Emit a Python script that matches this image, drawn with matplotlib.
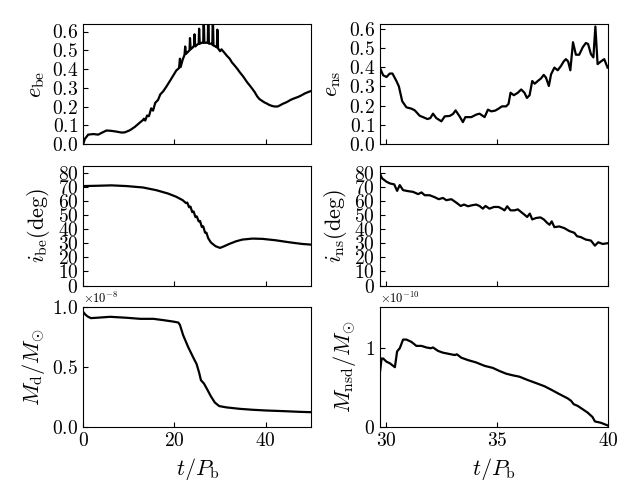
import matplotlib
matplotlib.use('Agg')
import matplotlib.pyplot as plt
import numpy as np

plt.rcParams['font.family'] = 'serif'
plt.rcParams['font.serif'] = ['cmr10']
plt.rcParams['mathtext.fontset'] = 'cm'
plt.rcParams['axes.formatter.use_mathtext'] = True
plt.rcParams['axes.unicode_minus'] = False

# ---- binary / circumbinary disc (left column), t in P_b ----
t_ebe = [0, 0.36, 1.1, 2.2, 3.3, 4.0, 5.1, 6.2, 7.3, 8.4, 9.1, 10.2, 11.3, 12.4, 13.1, 13.3, 13.6,
         14.0, 14.4, 14.9, 15.3, 15.8, 16.4, 16.9, 17.5, 18.2, 19.1, 19.8, 20.4, 21.0, 21.2, 21.35,
         21.8, 22.2, 22.35, 22.5, 22.9, 23.3, 23.4, 23.55, 24.0, 24.3, 24.4, 24.55, 25.0, 25.3, 25.4,
         25.55, 26.0, 26.3, 26.4, 26.55, 27.0, 27.3, 27.4, 27.55, 28.0, 28.3, 28.4, 28.55, 29.0,
         29.3, 29.4, 29.55, 30.0, 30.3, 31.0, 31.5, 32.1, 32.6, 33.2, 33.8, 34.3, 34.9, 35.4, 35.9,
         36.5, 37.1, 37.6, 38.1, 38.6, 39.2, 39.7, 40.3, 40.8, 41.4, 41.9, 42.6, 43.2, 43.7, 44.3,
         44.8, 45.5, 46.3, 47.0, 47.7, 48.6, 49.6, 50.0]
e_be = [0.0, 0.027, 0.05, 0.053, 0.05, 0.059, 0.072, 0.07, 0.066, 0.061, 0.062, 0.073, 0.091, 0.114,
        0.128, 0.135, 0.125, 0.152, 0.148, 0.19, 0.178, 0.22, 0.235, 0.265, 0.28, 0.305, 0.34, 0.368,
        0.392, 0.405, 0.455, 0.41, 0.45, 0.475, 0.52, 0.48, 0.49, 0.5, 0.565, 0.505, 0.515, 0.525,
        0.585, 0.52, 0.53, 0.535, 0.615, 0.535, 0.54, 0.54, 0.7, 0.54, 0.54, 0.54, 0.7, 0.535, 0.535,
        0.53, 0.7, 0.525, 0.52, 0.515, 0.61, 0.51, 0.495, 0.505, 0.485, 0.47, 0.455, 0.435, 0.418,
        0.4, 0.383, 0.365, 0.348, 0.33, 0.312, 0.293, 0.276, 0.255, 0.24, 0.23, 0.222, 0.215, 0.208,
        0.203, 0.2, 0.2, 0.207, 0.214, 0.22, 0.226, 0.236, 0.244, 0.25, 0.258, 0.27, 0.28, 0.283]

t_ibe = [0, 2.9, 6.2, 9.5, 13.1, 16.0, 18.6, 20.4, 21.8, 22.5, 22.8, 23.2, 23.5, 23.9, 24.2, 24.6,
         24.9, 25.3, 25.6, 26.0, 26.3, 26.7, 27.0, 27.4, 28.0, 29.0, 30.0, 30.9, 32.0, 33.5, 34.9,
         37.1, 39.3, 42.2, 45.1, 48.0, 50.0]
i_be = [70.5, 70.7, 71.0, 70.5, 69.5, 67.6, 65.2, 62.9, 60.5, 58.5, 58.8, 55.5, 56.0, 52.0, 52.5,
        48.5, 49.0, 45.5, 45.8, 41.5, 42.0, 37.5, 37.5, 33.5, 30.5, 27.9, 26.7, 27.9, 29.5, 31.4,
        32.6, 33.3, 33.1, 32.1, 30.7, 29.5, 29.0]

t_md = [0, 0.44, 0.95, 1.68, 3.0, 5.9, 9.5, 12.5, 15.4, 17.6, 19.75, 20.85, 21.2, 21.9, 23.0, 24.1,
        24.85, 25.4, 25.8, 26.46, 27.2, 28.0, 28.86, 29.8, 31.4, 34.3, 37.2, 40.2, 43.8, 47.4, 50.0]
m_d = [0.96, 0.94, 0.923, 0.909, 0.912, 0.92, 0.912, 0.903, 0.903, 0.892, 0.88, 0.872, 0.852, 0.767,
       0.668, 0.582, 0.526, 0.455, 0.392, 0.364, 0.313, 0.256, 0.205, 0.176, 0.165, 0.153, 0.145,
       0.139, 0.134, 0.128, 0.125]  # x 1e-8

# ---- neutron star disc (right column) ----
t_ens = [29.70, 29.85, 30.0, 30.15, 30.27, 30.45, 30.56, 30.71, 30.9, 31.13, 31.28, 31.5, 31.65,
         31.85, 31.98, 32.1, 32.25, 32.48, 32.63, 32.85, 33.0, 33.12, 33.3, 33.45, 33.56, 33.83,
         34.05, 34.2, 34.43, 34.58, 34.73, 34.91, 35.06, 35.21, 35.4, 35.51, 35.6, 35.75, 35.93,
         36.08, 36.23, 36.34, 36.46, 36.58, 36.69, 36.83, 36.98, 37.1, 37.2, 37.33, 37.43, 37.58,
         37.73, 37.88, 38.0, 38.1, 38.2, 38.3, 38.42, 38.55, 38.7, 38.86, 39.0, 39.1, 39.23, 39.34,
         39.43, 39.53, 39.68, 39.83, 39.98]
e_ns = [0.398, 0.358, 0.349, 0.367, 0.367, 0.328, 0.30, 0.223, 0.191, 0.184, 0.175, 0.147, 0.14,
        0.13, 0.135, 0.158, 0.135, 0.118, 0.144, 0.146, 0.156, 0.175, 0.144, 0.114, 0.14, 0.14,
        0.153, 0.158, 0.14, 0.179, 0.170, 0.174, 0.184, 0.196, 0.196, 0.209, 0.267, 0.254, 0.267,
        0.284, 0.267, 0.24, 0.254, 0.328, 0.314, 0.328, 0.342, 0.36, 0.346, 0.302, 0.363, 0.398,
        0.384, 0.407, 0.43, 0.442, 0.43, 0.384, 0.53, 0.465, 0.465, 0.504, 0.526, 0.521, 0.468,
        0.451, 0.612, 0.416, 0.43, 0.442, 0.398]

t_ins = [29.7, 29.8, 30.0, 30.15, 30.35, 30.48, 30.6, 30.75, 30.98, 31.2, 31.43, 31.58, 31.73,
         31.95, 32.18, 32.36, 32.55, 32.7, 32.93, 33.15, 33.35, 33.5, 33.68, 33.86, 34.05, 34.2,
         34.35, 34.47, 34.65, 34.85, 35.06, 35.21, 35.33, 35.45, 35.6, 35.78, 35.93, 36.08, 36.23,
         36.35, 36.47, 36.58, 36.76, 36.95, 37.1, 37.25, 37.36, 37.46, 37.58, 37.8, 38.03, 38.26,
         38.48, 38.6, 38.78, 39.0, 39.23, 39.41, 39.56, 39.76, 39.98]
i_ns = [79.5, 76.0, 73.6, 72.4, 71.7, 67.1, 71.2, 67.6, 66.9, 66.4, 64.8, 66.0, 64.0, 64.0, 62.6,
        61.2, 62.1, 60.5, 61.2, 58.8, 56.4, 57.4, 56.2, 56.9, 57.4, 56.4, 54.5, 56.4, 54.5, 55.7,
        55.7, 54.5, 53.3, 56.2, 53.3, 53.3, 54.0, 52.1, 50.2, 48.6, 51.0, 46.9, 47.9, 48.3, 46.9,
        44.5, 43.1, 45.5, 41.4, 41.9, 40.7, 38.6, 37.4, 35.0, 34.3, 32.6, 31.9, 28.3, 30.7, 29.5,
        30.0]

t_mnsd = [29.7, 29.78, 29.85, 30.0, 30.15, 30.38, 30.48, 30.6, 30.75, 30.9, 31.13, 31.35, 31.58,
          31.8, 32.0, 32.1, 32.33, 32.55, 32.85, 33.08, 33.18, 33.38, 33.68, 34.05, 34.43, 34.8,
          35.1, 35.4, 35.7, 36.0, 36.38, 36.76, 37.13, 37.43, 37.8, 38.18, 38.33, 38.45, 38.63,
          38.86, 39.08, 39.3, 39.41, 39.68, 39.95, 40.0]
m_nsd = [0.68, 0.87, 0.87, 0.83, 0.81, 0.76, 0.96, 1.0, 1.11, 1.11, 1.08, 1.03, 1.03, 1.01, 1.0,
         1.01, 0.966, 0.944, 0.927, 0.914, 0.923, 0.88, 0.85, 0.82, 0.777, 0.751, 0.712, 0.678,
         0.657, 0.64, 0.597, 0.558, 0.519, 0.476, 0.42, 0.365, 0.335, 0.292, 0.27, 0.227, 0.185,
         0.129, 0.073, 0.056, 0.026, 0.02]  # x 1e-10

fig, axes = plt.subplots(3, 2, figsize=(6.4, 4.8))
plt.subplots_adjust(left=0.13, right=0.95, top=0.95, bottom=0.11, hspace=0.18, wspace=0.3)

lw = 1.6
fs_lab = 16
fs_tick = 14

ax = axes[0, 0]
ax.plot(t_ebe, e_be, 'k-', lw=lw)
ax.set_xlim(0, 50)
ax.set_ylim(0, 0.64)
ax.set_yticks([0, 0.1, 0.2, 0.3, 0.4, 0.5, 0.6])
ax.set_ylabel(r'$e_{\rm be}$', fontsize=fs_lab)

ax = axes[1, 0]
ax.plot(t_ibe, i_be, 'k-', lw=lw)
ax.set_xlim(0, 50)
ax.set_ylim(0, 85)
ax.set_yticks(np.arange(0, 81, 10))
ax.set_ylabel(r'$i_{\rm be}({\rm deg})$', fontsize=fs_lab)

ax = axes[2, 0]
ax.plot(t_md, np.array(m_d) * 1e-8, 'k-', lw=lw)
ax.set_xlim(0, 50)
ax.set_ylim(0, 1e-8)
ax.set_yticks([0, 0.5e-8, 1e-8])
ax.set_ylabel(r'$M_{\rm d}/M_{\odot}$', fontsize=fs_lab)

ax = axes[0, 1]
ax.plot(t_ens, e_ns, 'k-', lw=lw)
ax.set_xlim(29.7, 40)
ax.set_ylim(0, 0.625)
ax.set_yticks([0, 0.1, 0.2, 0.3, 0.4, 0.5, 0.6])
ax.set_ylabel(r'$e_{\rm ns}$', fontsize=fs_lab)

ax = axes[1, 1]
ax.plot(t_ins, i_ns, 'k-', lw=lw)
ax.set_xlim(29.7, 40)
ax.set_ylim(0, 85)
ax.set_yticks(np.arange(0, 81, 10))
ax.set_ylabel(r'$i_{\rm ns}({\rm deg})$', fontsize=fs_lab)

ax = axes[2, 1]
ax.plot(t_mnsd, np.array(m_nsd) * 1e-10, 'k-', lw=lw)
ax.set_xlim(29.7, 40)
ax.set_ylim(0, 1.52e-10)
ax.set_yticks([0, 1e-10])
ax.set_ylabel(r'$M_{\rm nsd}/M_{\odot}$', fontsize=fs_lab)

for col in range(2):
    ticks = [0, 20, 40] if col == 0 else [30, 35, 40]
    for row in range(3):
        a = axes[row, col]
        a.set_xticks(ticks)
        a.tick_params(direction='in', labelsize=fs_tick)
        a.yaxis.get_offset_text().set_fontsize(9)
        if row < 2:
            a.set_xticklabels([])
    axes[2, col].set_xlabel(r'$t/P_{\rm b}$', fontsize=fs_lab)

plt.savefig('out.png', dpi=100)
